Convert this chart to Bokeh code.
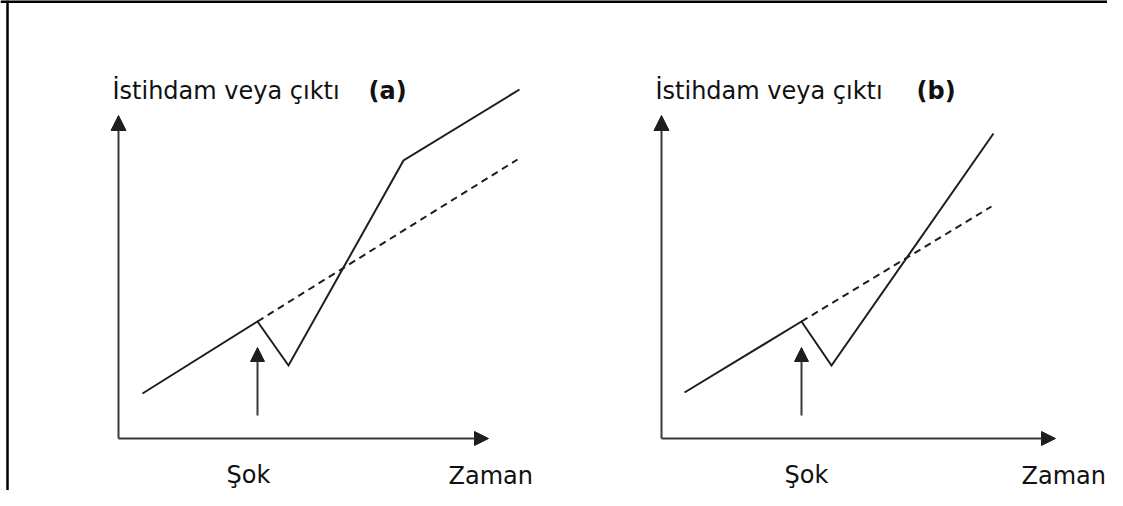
from bokeh.plotting import figure
from bokeh.models import Range1d, Arrow, NormalHead, Span
from bokeh.core.properties import value
from bokeh.embed import file_html
from bokeh.resources import INLINE

# ---------------- data (arbitrary units: time, employment/output) -------------
# Panel (a)
a_time = [2.4, 13.9, 17.0, 28.5, 40.1]
a_output = [4.5, 11.7, 7.3, 27.8, 34.9]
a_trend_time = [13.9, 39.9]
a_trend_output = [11.7, 27.9]
a_shock_time = 13.9
a_shock_from, a_shock_to = 2.3, 9.1
a_axis_time_end = 37.0
a_axis_output_end = 32.3

# Panel (b)
b_time = [2.3, 14.0, 17.0, 33.2]
b_output = [4.6, 11.7, 7.3, 30.5]
b_trend_time = [14.0, 33.0]
b_trend_output = [11.7, 23.2]
b_shock_time = 14.0
b_shock_from, b_shock_to = 2.3, 9.1
b_axis_time_end = 39.4
b_axis_output_end = 32.3

# texts
y_label = "İstihdam veya çıktı"
x_label = "Zaman"
shock_label = "Şok"
panel_tags = ["(a)", "(b)"]

# label anchor positions (data units)
a_text_pos = {"ylab": (-0.6, 34.8), "tag": (25.0, 34.8), "shock": (10.8, -3.6), "xlab": (33.0, -3.7)}
b_text_pos = {"ylab": (-0.6, 34.8), "tag": (25.5, 34.8), "shock": (12.3, -3.6), "xlab": (36.0, -3.7)}

FONT = value("DejaVu Sans")
INK = "#1e1e1e"
AXIS = "#3a3a3a"

# one canvas, each panel on its own horizontal scale
p = figure(width=1107, height=490, x_range=Range1d(-11.8, 98.9), y_range=Range1d(-5.2, 43.8),
           min_border=0, x_axis_location=None, y_axis_location=None,
           toolbar_location=None, output_backend="svg", outline_line_color=None)
p.extra_x_ranges = {"b": Range1d(-66.1, 44.6)}
p.grid.grid_line_color = None
p.background_fill_color = "white"
p.border_fill_color = "white"

# frame border: top and left
p.add_layout(Span(location=p.y_range.end, dimension="width", line_color="#000", line_width=5))
p.add_layout(Span(location=-11.1, dimension="height", line_color="#000", line_width=2.5))


def draw_panel(rng, time, output, trend_t, trend_o, shock_t, shock_from, shock_to,
               ax_t_end, ax_o_end, pos, tag):
    # axes as arrows
    p.add_layout(Arrow(end=NormalHead(size=15, fill_color=INK, line_color=INK),
                       x_start=0, y_start=0, x_end=0, y_end=ax_o_end,
                       line_color=AXIS, line_width=2, x_range_name=rng))
    p.add_layout(Arrow(end=NormalHead(size=14, fill_color=INK, line_color=INK),
                       x_start=0, y_start=0, x_end=ax_t_end, y_end=0,
                       line_color=AXIS, line_width=2, x_range_name=rng))

    # trend (dashed) and actual path (solid)
    p.line(trend_t, trend_o, line_color=INK, line_width=2, line_dash="7 5", x_range_name=rng)
    p.line(time, output, line_color=INK, line_width=2, line_join="miter", x_range_name=rng)

    # shock arrow
    p.add_layout(Arrow(end=NormalHead(size=14, fill_color=INK, line_color=INK),
                       x_start=shock_t, y_start=shock_from, x_end=shock_t, y_end=shock_to,
                       line_color=AXIS, line_width=2, x_range_name=rng))

    # texts
    p.text(x=[pos["ylab"][0], pos["shock"][0], pos["xlab"][0]],
           y=[pos["ylab"][1], pos["shock"][1], pos["xlab"][1]],
           text=[y_label, shock_label, x_label],
           text_font=FONT, text_font_size="24px", text_color="#111111",
           text_align="left", text_baseline="alphabetic", x_range_name=rng)
    p.text(x=[pos["tag"][0]], y=[pos["tag"][1]], text=[tag],
           text_font=FONT, text_font_size="24px", text_font_style="bold",
           text_color="#111111", text_align="left", text_baseline="alphabetic",
           x_range_name=rng)


draw_panel("default", a_time, a_output, a_trend_time, a_trend_output,
           a_shock_time, a_shock_from, a_shock_to, a_axis_time_end, a_axis_output_end,
           a_text_pos, panel_tags[0])
draw_panel("b", b_time, b_output, b_trend_time, b_trend_output,
           b_shock_time, b_shock_from, b_shock_to, b_axis_time_end, b_axis_output_end,
           b_text_pos, panel_tags[1])

open("out.html", "w").write(file_html(p, INLINE))
